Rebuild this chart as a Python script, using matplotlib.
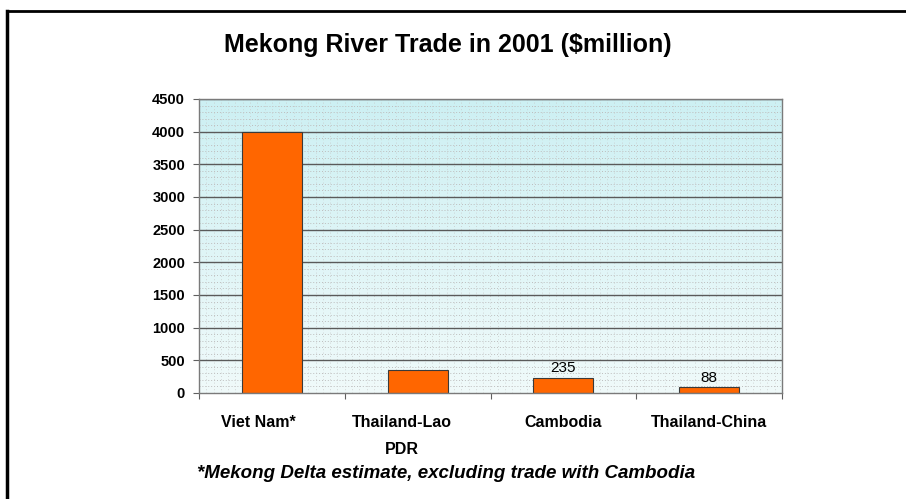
import numpy as np
import matplotlib
matplotlib.use("Agg")
import matplotlib.pyplot as plt
from matplotlib.lines import Line2D

plt.rcParams['font.family'] = ['Liberation Sans', 'DejaVu Sans']

categories = ['Viet Nam*', 'Thailand-Lao\nPDR', 'Cambodia', 'Thailand-China']
values = [4000, 345, 235, 88]
labelled = {2: '235', 3: '88'}
yticks = list(range(0, 4501, 500))

fig = plt.figure(figsize=(9.06, 4.99), dpi=100)
ax = fig.add_axes([199 / 906, 106 / 499, 583 / 906, 294 / 499])

# pale cyan backdrop, whiter near the bottom
grad = np.linspace(0, 1, 256).reshape(-1, 1)
cmap = matplotlib.colors.LinearSegmentedColormap.from_list('bg', ['#f0fafa', '#cdf0f3'])
ax.imshow(grad, aspect='auto', cmap=cmap, origin='lower',
          extent=[-0.5, 3.5, 0, 4500], zorder=0)

# dotted texture
for yy in np.arange(100, 4500, 100):
    ax.axhline(yy, color='#bdbdbd', lw=0.7, ls=(0, (1, 2)), zorder=0.5)
for xx in np.arange(-0.5, 3.5, 0.05):
    ax.axvline(xx, color='#c8c8c8', lw=0.6, ls=(0, (1, 3)), zorder=0.5)

for yy in yticks[1:]:
    ax.axhline(yy, color='#5a5a5a', lw=1.0, zorder=1)

x = np.arange(len(categories))
ax.bar(x, values, width=0.41, color='#ff6600', edgecolor='#3a3a3a',
       linewidth=0.8, zorder=2)

for i, txt in labelled.items():
    ax.text(x[i], values[i] + 40, txt, ha='center', va='bottom',
            fontsize=11, zorder=3)

ax.set_xlim(-0.5, 3.5)
ax.set_ylim(0, 4500)
ax.set_yticks(yticks)
ax.set_yticklabels([str(v) for v in yticks], fontsize=10.5, fontweight='bold')
ax.set_xticks(np.arange(-0.5, 3.6, 1.0))
ax.set_xticklabels([])
# labels sit a little left of the bars for the first two categories
ax.set_xticks(x + np.array([-0.09, -0.11, 0.0, 0.0]), minor=True)
ax.set_xticklabels(categories, minor=True, fontsize=11.5, fontweight='bold',
                   linespacing=2.0)
ax.tick_params(axis='x', which='minor', length=0, pad=16)
ax.tick_params(axis='x', which='major', length=4, color='#606060')
ax.tick_params(axis='y', length=4, color='#606060', pad=6)
for s in ax.spines.values():
    s.set_color('#7a7a7a')
    s.set_linewidth(1.0)

fig.text(448 / 906, 1 - 45 / 499, 'Mekong River Trade in 2001 ($million)',
         ha='center', va='center', fontsize=18, fontweight='bold')
fig.text(197 / 906, 1 - 473 / 499,
         '*Mekong Delta estimate, excluding trade with Cambodia',
         ha='left', va='center', fontsize=13.5, fontweight='bold', style='italic')

# frame (top and left edges)
fig.add_artist(Line2D([7 / 906, 1], [1 - 11 / 499, 1 - 11 / 499],
                      transform=fig.transFigure, color='black', lw=2))
fig.add_artist(Line2D([7 / 906, 7 / 906], [0, 1 - 11 / 499],
                      transform=fig.transFigure, color='black', lw=2.5))

fig.savefig('out.png', dpi=100)
